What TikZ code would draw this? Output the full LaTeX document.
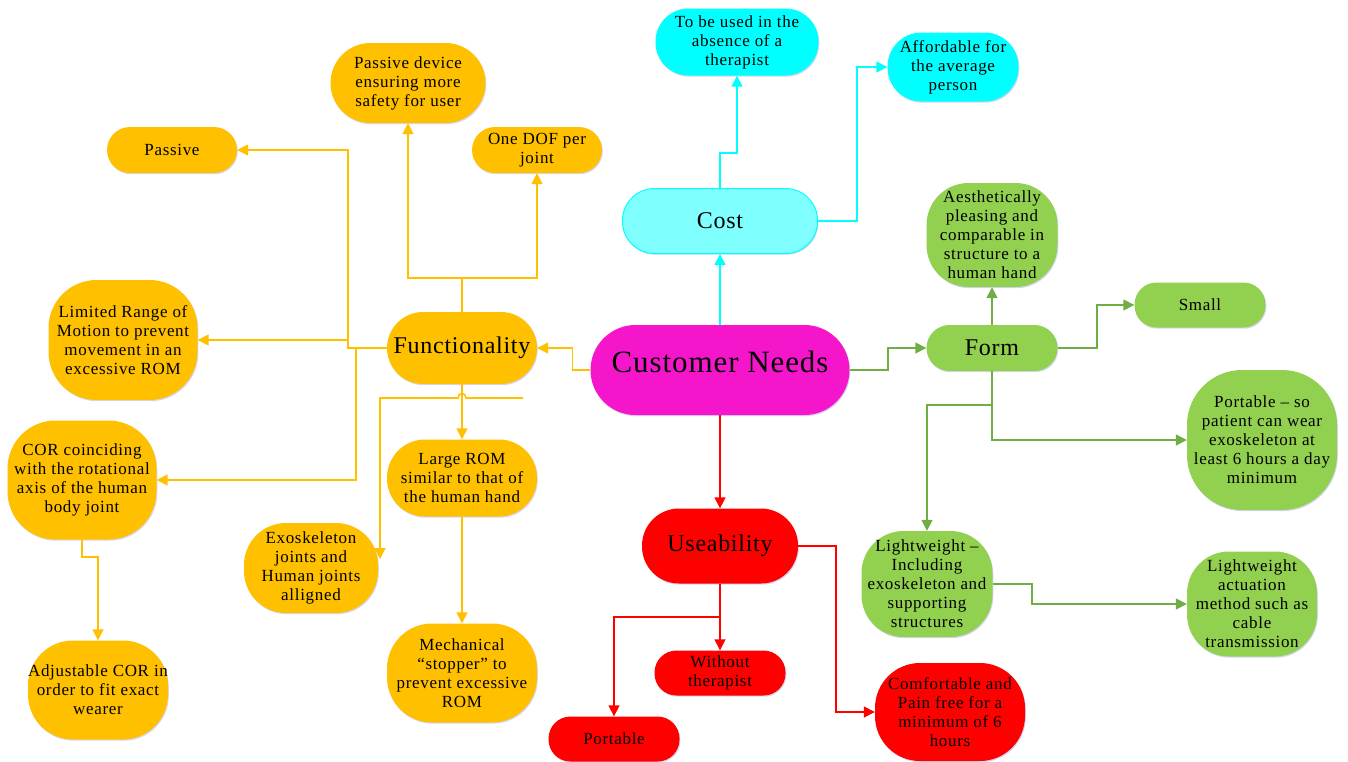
\documentclass[tikz,border=0pt]{standalone}
\usepackage{fontspec}
\setmainfont{Liberation Serif}
\usetikzlibrary{arrows.meta,shadows}
\definecolor{org}{HTML}{FFC000}
\definecolor{rd}{HTML}{FF0000}
\definecolor{grf}{HTML}{92D050}
\definecolor{grl}{HTML}{70AD47}
\definecolor{cy}{HTML}{00FFFF}
\definecolor{cyl}{HTML}{80FFFF}
\definecolor{mag}{HTML}{F516CB}
\newcommand{\smallf}{\fontsize{17}{19}\selectfont\addfontfeature{LetterSpace=4}}
\newcommand{\midf}{\fontsize{24}{28}\selectfont\addfontfeature{LetterSpace=3}}
\newcommand{\bigf}{\fontsize{31}{34}\selectfont\addfontfeature{LetterSpace=3}}
\tikzset{
  bx/.style n args={3}{rectangle, inner sep=0pt, align=center, font=\smallf,
    minimum width=#1pt, minimum height=#2pt, rounded corners=#3pt,
    drop shadow={shadow xshift=0.8pt, shadow yshift=-1.2pt, opacity=0.22, fill=blue!50!gray}},
  ob/.style={fill=org},
  rb/.style={fill=rd},
  gb/.style={fill=grf},
  cb/.style={fill=cy},
  conn/.style={line width=1.6pt, -{Triangle[length=11pt,width=11pt]}},
  ocon/.style={conn, draw=org},
  rcon/.style={conn, draw=rd},
  gcon/.style={conn, draw=grl},
  ccon/.style={conn, draw=cy},
}
\begin{document}
\begin{tikzpicture}[x=1pt,y=-1pt]
\useasboundingbox (0,0) rectangle (1348,761);
% central
\node[bx={259}{90}{45}, fill=mag, font=\bigf] (cn) at (720,370) {\raisebox{16pt}{Customer Needs}};
% cost
\node[bx={195}{65}{32}, fill=cyl, draw=cy, line width=1pt, font=\midf] (cost) at (720,221) {Cost};
\node[bx={163}{67}{33}, cb] (tbu) at (737,42) {To be used in the\\absence of a\\therapist};
\node[bx={131}{69}{34}, cb] (aff) at (953,67) {Affordable for\\the average\\person};
% functionality
\node[bx={150}{72}{36}, ob, font=\midf] (fun) at (462,348) {Functionality};
\node[bx={130}{46}{23}, ob] (pas) at (172,150) {Passive};
\node[bx={155}{80}{40}, ob] (pdev) at (408,83) {Passive device\\ensuring more\\safety for user};
\node[bx={130}{46}{23}, ob] (dof) at (537,150) {One DOF per\\joint};
\node[bx={149}{120}{48}, ob] (lim) at (123,340) {Limited Range of\\Motion to prevent\\movement in an\\excessive ROM};
\node[bx={149}{119}{48}, ob] (cor) at (82,480) {COR coinciding\\with the rotational\\axis of the human\\body joint};
\node[bx={150}{77}{38}, ob] (lrom) at (462,478) {Large ROM\\similar to that of\\the human hand};
\node[bx={134}{90}{42}, ob] (exo) at (311,568) {Exoskeleton\\joints and\\Human joints\\alligned};
\node[bx={150}{99}{45}, ob] (mech) at (462,673) {Mechanical\\``stopper'' to\\prevent excessive\\ROM};
\node[bx={140}{99}{45}, ob] (adj) at (98,690) {Adjustable COR in\\order to fit exact\\wearer};
% useability
\node[bx={156}{75}{37}, rb, font=\midf] (use) at (720,546) {Useability};
\node[bx={131}{45}{22}, rb] (wo) at (720,673) {Without\\therapist};
\node[bx={131}{45}{22}, rb] (port) at (614,739) {Portable};
\node[bx={150}{98}{45}, rb] (comf) at (950,712) {Comfortable and\\Pain free for a\\minimum of 6\\hours};
% form
\node[bx={131}{46}{23}, gb, font=\midf] (form) at (992,348) {Form};
\node[bx={131}{104}{42}, gb] (aes) at (992,235) {Aesthetically\\pleasing and\\comparable in\\structure to a\\human hand};
\node[bx={131}{45}{22}, gb] (small) at (1200,305) {Small};
\node[bx={150}{140}{55}, gb] (pso) at (1262,440) {Portable -- so\\patient can wear\\exoskeleton at\\least 6 hours a day\\minimum};
\node[bx={131}{106}{42}, gb] (lw) at (927,584) {Lightweight --\\Including\\exoskeleton and\\supporting\\structures};
\node[bx={130}{105}{42}, gb] (act) at (1252,604) {Lightweight\\actuation\\method such as\\cable\\transmission};
% cost connectors
\draw[ccon] (cn.north) -- (cost.south);
\draw[ccon] (cost.north) -- ++(0,-35) -| (tbu.south);
\draw[ccon] (cost.east) -- ++(39,0) |- (aff.west);
% functionality connectors
\draw[ocon] (cn.west) -- ++(-18,0) |- (fun.east);
\draw[ocon] (fun.north) -- ++(0,-34) -| (pdev.south);
\draw[ocon] (fun.north) -- ++(0,-34) -| (dof.south);
\draw[ocon] (fun.west) -- ++(-39,0) |- (pas.east);
\draw[ocon] (fun.west) -- ++(-39,0) -- ++(0,-8) -- (lim.east);
\draw[ocon] (fun.west) -- ++(-31,0) |- (cor.east);
\draw[ocon] (fun.south) -- (lrom.north);
\coordinate (dang) at (523,398);
\draw[ocon] (dang) -- (466,398) .. controls (466,392) and (458,392) .. (458,398) -- (380,398) -- (380,559);
\draw[ocon] (lrom.south) -- (mech.north);
\draw[ocon] (cor.south) -- ++(0,17) -| (adj.north);
% useability connectors
\draw[rcon] (cn.south) -- (use.north);
\draw[rcon] (use.south) -- (wo.north);
\draw[rcon] (use.south) -- ++(0,33) -| (port.north);
\draw[rcon] (use.east) -- ++(38,0) |- (comf.west);
% form connectors
\draw[gcon] (cn.east) -- ++(38,0) |- (form.west);
\draw[gcon] (form.north) -- (aes.south);
\draw[gcon] (form.east) -- ++(39,0) |- (small.west);
\draw[gcon] (form.south) -- ++(0,34) -| (lw.north);
\draw[gcon] (form.south) |- (pso.west);
\draw[gcon] (lw.east) -- ++(39,0) |- (act.west);
\end{tikzpicture}
\end{document}
